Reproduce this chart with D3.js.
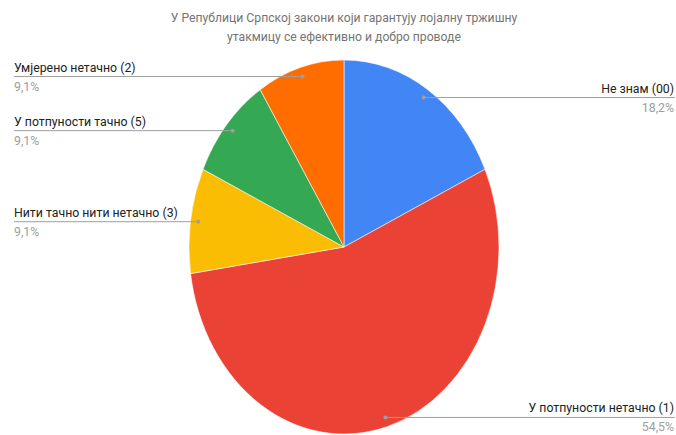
<!DOCTYPE html>
<html><head><meta charset="utf-8">
<script src="https://cdn.jsdelivr.net/npm/d3@7"></script>
<style>
html,body{margin:0;padding:0;background:#fff;}
svg{display:block;font-family:Roboto, Arial, sans-serif;}
</style></head>
<body>
<svg id="chart" width="676" height="435"></svg>
<script>
const titleLines = ["У Републици Српској закони који гарантују лојалну тржишну", "утакмицу се ефективно и добро проводе"];
const categories = ["Не знам (00)", "У потпуности нетачно (1)", "Нити тачно нити нетачно (3)", "У потпуности тачно (5)", "Умјерено нетачно (2)"];
const counts = [2, 6, 1, 1, 1];
const percentLabels = ["18,2%", "54,5%", "9,1%", "9,1%", "9,1%"];
const colors = ["#4285F4", "#EA4335", "#FBBC04", "#34A853", "#FF6D01"];

const W = 676, H = 435;
const cx = 344, cy = 247, rx = 155, ry = 187;
const svg = d3.select("#chart");

svg.selectAll("text.title").data(titleLines).join("text")
  .attr("class","title")
  .attr("x", cx).attr("y", (d,i)=>22 + i*19)
  .attr("text-anchor","middle")
  .attr("font-size", 12.2).attr("fill","#757575")
  .text(d=>d);

const pie = d3.pie().sort(null).value(d=>d);
const arcs = pie(counts);
const arc = d3.arc().innerRadius(0).outerRadius(rx);

const g = svg.append("g").attr("transform", `translate(${cx},${cy}) scale(1,${ry/rx})`);
g.selectAll("path").data(arcs).join("path")
  .attr("d", arc)
  .attr("fill", (d,i)=>colors[i])
  .attr("stroke","#fff").attr("stroke-width",0.5);

// anchor points at mid angle, 0.95 radius (ellipse)
const anchors = arcs.map(a=>{
  const m = (a.startAngle + a.endAngle)/2;
  return {x: cx + Math.sin(m)*rx*0.95, y: cy - Math.cos(m)*ry*0.95, right: Math.sin(m) > 0};
});

const lab = svg.append("g");
anchors.forEach((p,i)=>{
  const x2 = p.right ? 675 : 14;
  lab.append("line").attr("x1",p.x).attr("y1",p.y).attr("x2",x2).attr("y2",p.y)
    .attr("stroke","#9e9e9e").attr("stroke-width",1);
  lab.append("circle").attr("cx",p.x).attr("cy",p.y).attr("r",2).attr("fill","#9e9e9e");
  const tx = p.right ? 674 : 14;
  const anchor = p.right ? "end" : "start";
  lab.append("text").attr("x",tx).attr("y",p.y-5).attr("text-anchor",anchor)
    .attr("font-size",12.3).attr("fill","#222").text(categories[i]);
  lab.append("text").attr("x",tx).attr("y",p.y+14).attr("text-anchor",anchor)
    .attr("font-size",12.3).attr("fill","#9e9e9e").text(percentLabels[i]);
});
</script>
</body></html>
